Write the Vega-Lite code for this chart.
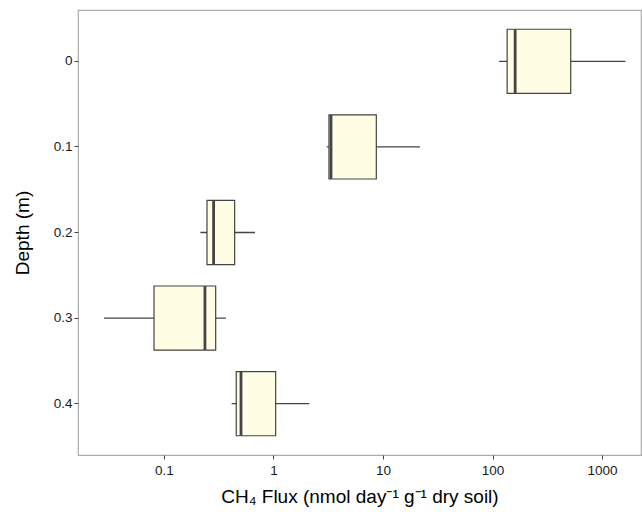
{
  "$schema": "https://vega.github.io/schema/vega-lite/v6.json",
  "width": 563,
  "height": 445,
  "autosize": {"type": "none"},
  "padding": {"left": 78, "top": 10, "right": 1, "bottom": 61},
  "background": "white",
  "config": {
    "view": {"stroke": "#ababab", "strokeWidth": 1.2},
    "font": "Liberation Sans",
    "axis": {
      "domain": false,
      "grid": false,
      "tickColor": "#444",
      "tickSize": 4,
      "tickWidth": 1,
      "labelColor": "#1a1a1a",
      "labelFontSize": 13.5,
      "labelFont": "Liberation Sans",
      "titleFont": "Liberation Sans",
      "titleFontSize": 19,
      "titleFontWeight": "normal",
      "titleColor": "#000"
    }
  },
  "data": {
    "values": [
      {"depth": "0", "lower": 115, "q1": 136, "median": 161, "q3": 518, "upper": 1633},
      {"depth": "0.1", "lower": 3.06, "q1": 3.21, "median": 3.35, "q3": 8.69, "upper": 21.8},
      {"depth": "0.2", "lower": 0.215, "q1": 0.247, "median": 0.284, "q3": 0.442, "upper": 0.677},
      {"depth": "0.3", "lower": 0.0283, "q1": 0.0811, "median": 0.2366, "q3": 0.2966, "upper": 0.368},
      {"depth": "0.4", "lower": 0.415, "q1": 0.457, "median": 0.505, "q3": 1.047, "upper": 2.12}
    ]
  },
  "encoding": {
    "y": {
      "field": "depth",
      "type": "ordinal",
      "sort": ["0", "0.1", "0.2", "0.3", "0.4"],
      "scale": {"type": "band", "paddingInner": 0, "paddingOuter": 0.1},
      "axis": {"title": "Depth (m)", "labelPadding": 2, "titlePadding": 21}
    }
  },
  "layer": [
    {
      "mark": {"type": "rule", "color": "#444", "strokeWidth": 1.4},
      "encoding": {
        "x": {
          "field": "lower",
          "type": "quantitative",
          "scale": {"type": "log", "domain": [0.0164, 2270], "nice": false},
          "axis": {
            "title": "CH₄ Flux (nmol day⁻¹ g⁻¹ dry soil)",
            "values": [0.1, 1, 10, 100, 1000],
            "format": "~g",
            "labelPadding": 4,
            "titlePadding": 11
          }
        },
        "x2": {"field": "upper"}
      }
    },
    {
      "mark": {"type": "bar", "fill": "#fffde4", "stroke": "#444", "strokeWidth": 1.2, "height": {"band": 0.75}},
      "encoding": {
        "x": {"field": "q1", "type": "quantitative"},
        "x2": {"field": "q3"}
      }
    },
    {
      "mark": {"type": "tick", "orient": "vertical", "color": "#444", "thickness": 2.8, "size": 64, "opacity": 1},
      "encoding": {
        "x": {"field": "median", "type": "quantitative"}
      }
    }
  ]
}
